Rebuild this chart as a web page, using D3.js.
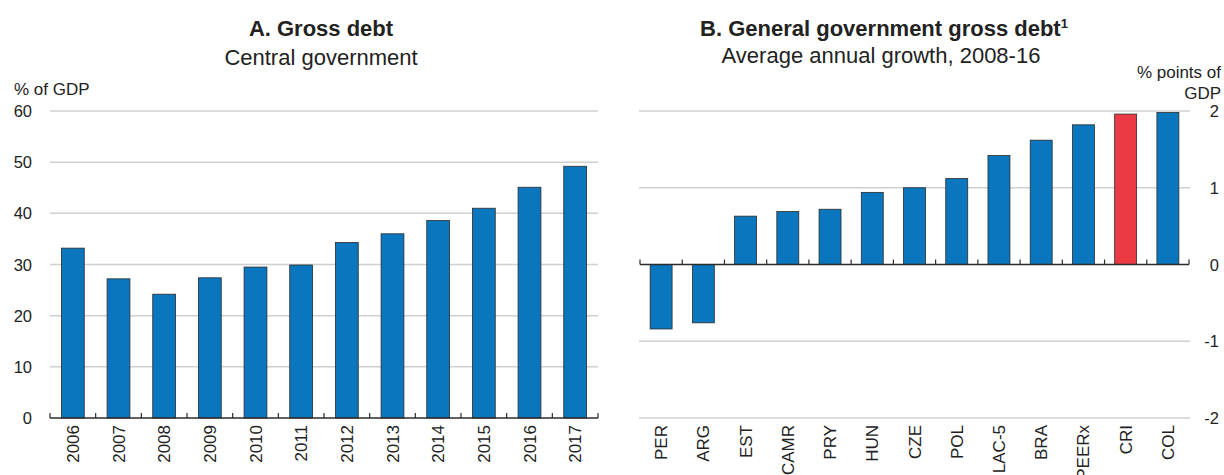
<!DOCTYPE html>
<html>
<head>
<meta charset="utf-8">
<script src="https://cdn.jsdelivr.net/npm/d3@7"></script>
<style>
  body { margin: 0; background: #fff; }
  svg { display: block; }
  text { font-family: "Liberation Sans", Arial, sans-serif; fill: #222; }
</style>
</head>
<body>
<svg id="chart" width="1224" height="475"></svg>
<script>
// Panel A data
const yearsA = ["2006","2007","2008","2009","2010","2011","2012","2013","2014","2015","2016","2017"];
const debtA = [33.2, 27.2, 24.2, 27.4, 29.5, 29.9, 34.3, 36.0, 38.6, 41.0, 45.1, 49.2];
const ticksA = [0, 10, 20, 30, 40, 50, 60];

// Panel B data
const countriesB = ["PER","ARG","EST","CAMR","PRY","HUN","CZE","POL","LAC-5","BRA","PEERx","CRI","COL"];
const growthB = [-0.84, -0.76, 0.63, 0.69, 0.72, 0.94, 1.0, 1.12, 1.42, 1.62, 1.82, 1.96, 1.98];
const highlightB = ["CRI"];
const ticksB = [-2, -1, 0, 1, 2];

const BLUE = "#0a76bd", RED = "#ec3a44", GRID = "#d0d0d0", STROKE = "#2b2b2b";
const svg = d3.select("#chart");

// ---------- Panel A ----------
{
  const x = d3.scaleBand().domain(yearsA).range([50, 598]).paddingInner(0.5).paddingOuter(0.25);
  const y = d3.scaleLinear().domain([0, 60]).range([418, 111]);
  const g = svg.append("g");

  g.append("text").attr("x", 321).attr("y", 36).attr("text-anchor", "middle")
    .style("font-size", "22px").style("font-weight", "bold").text("A. Gross debt");
  g.append("text").attr("x", 321).attr("y", 65).attr("text-anchor", "middle")
    .style("font-size", "22px").text("Central government");
  g.append("text").attr("x", 14).attr("y", 95).style("font-size", "17px").text("% of GDP");

  // gridlines
  g.selectAll("line.grid").data(ticksA.filter(d => d !== 0)).join("line")
    .attr("x1", 50).attr("x2", 598).attr("y1", d => y(d)).attr("y2", d => y(d))
    .attr("stroke", GRID).attr("stroke-width", 1.5);
  // y labels
  g.selectAll("text.yl").data(ticksA).join("text")
    .attr("x", 32).attr("y", d => y(d) + 6).attr("text-anchor", "end")
    .style("font-size", "16.5px").text(d => d);

  g.selectAll("rect.bar").data(debtA).join("rect")
    .attr("x", (d, i) => x(yearsA[i])).attr("width", x.bandwidth())
    .attr("y", d => y(d)).attr("height", d => y(0) - y(d))
    .attr("fill", BLUE).attr("stroke", STROKE).attr("stroke-width", 0.8);

  // x axis with ticks at band boundaries
  g.append("line").attr("x1", 50).attr("x2", 598).attr("y1", y(0)).attr("y2", y(0))
    .attr("stroke", STROKE).attr("stroke-width", 1.5);
  const bounds = yearsA.map(d => x(d) - (x.step() - x.bandwidth()) / 2);
  bounds.push(598);
  g.selectAll("line.tk").data(bounds).join("line")
    .attr("x1", d => d).attr("x2", d => d).attr("y1", y(0)).attr("y2", y(0) - 5)
    .attr("stroke", STROKE).attr("stroke-width", 1.2);
  g.selectAll("text.xl").data(yearsA).join("text")
    .attr("transform", d => `translate(${x(d) + x.bandwidth() / 2 + 6},425) rotate(-90)`)
    .attr("text-anchor", "end").style("font-size", "17px").text(d => d);
}

// ---------- Panel B ----------
{
  const x = d3.scaleBand().domain(countriesB).range([640, 1189]).paddingInner(0.48).paddingOuter(0.24);
  const y = d3.scaleLinear().domain([-2, 2]).range([418, 111]);
  const g = svg.append("g");

  g.append("text").attr("x", 884).attr("y", 36).attr("text-anchor", "middle")
    .style("font-size", "22px").style("font-weight", "bold")
    .call(t => {
      t.append("tspan").text("B. General government gross debt");
      t.append("tspan").attr("dy", -8).style("font-size", "13px").text("1");
    });
  g.append("text").attr("x", 881).attr("y", 63).attr("text-anchor", "middle")
    .style("font-size", "22px").text("Average annual growth, 2008-16");
  g.append("text").attr("x", 1221).attr("y", 78).attr("text-anchor", "end")
    .style("font-size", "17px").text("% points of");
  g.append("text").attr("x", 1221).attr("y", 99).attr("text-anchor", "end")
    .style("font-size", "17px").text("GDP");

  g.selectAll("line.grid").data(ticksB.filter(d => d !== 0)).join("line")
    .attr("x1", 639).attr("x2", 1190).attr("y1", d => y(d)).attr("y2", d => y(d))
    .attr("stroke", GRID).attr("stroke-width", 1.5);
  g.selectAll("text.yl").data(ticksB).join("text")
    .attr("x", 1219).attr("y", d => y(d) + 6).attr("text-anchor", "end")
    .style("font-size", "16.5px").text(d => d);

  g.selectAll("rect.bar").data(growthB).join("rect")
    .attr("x", (d, i) => x(countriesB[i])).attr("width", x.bandwidth())
    .attr("y", d => y(Math.max(0, d))).attr("height", d => Math.abs(y(d) - y(0)))
    .attr("fill", (d, i) => highlightB.includes(countriesB[i]) ? RED : BLUE)
    .attr("stroke", STROKE).attr("stroke-width", 0.8);

  g.append("line").attr("x1", 640).attr("x2", 1189).attr("y1", y(0)).attr("y2", y(0))
    .attr("stroke", STROKE).attr("stroke-width", 1.5);
  const bounds = countriesB.map(d => x(d) - (x.step() - x.bandwidth()) / 2);
  bounds.push(1189);
  g.selectAll("line.tk").data(bounds).join("line")
    .attr("x1", d => d).attr("x2", d => d).attr("y1", y(0)).attr("y2", y(0) - 5)
    .attr("stroke", STROKE).attr("stroke-width", 1.2);
  g.selectAll("text.xl").data(countriesB).join("text")
    .attr("transform", d => `translate(${x(d) + x.bandwidth() / 2 + 6},425) rotate(-90)`)
    .attr("text-anchor", "end").style("font-size", "17px").text(d => d);
}
</script>
</body>
</html>
